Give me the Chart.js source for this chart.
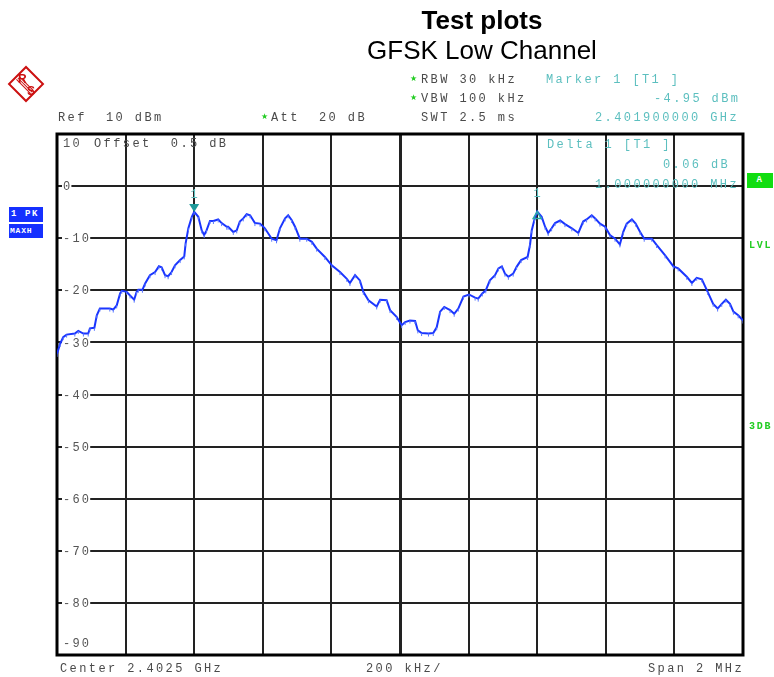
<!DOCTYPE html>
<html>
<head>
<meta charset="utf-8">
<script src="https://cdn.jsdelivr.net/npm/chart.js@4.4.1/dist/chart.umd.min.js"></script>
<style>
  html, body { margin: 0; padding: 0; background: #fff; }
  #wrap { position: relative; width: 774px; height: 677px; overflow: hidden; }
  canvas { position: absolute; left: 0; top: 0; }
  .t { position: absolute; white-space: pre; font-family: "Liberation Mono", "DejaVu Sans Mono", monospace;
       font-size: 12px; line-height: 12px; letter-spacing: 2.4px; color: #4a4a4a; }
  .teal { color: #5cbfbf; }
  .star { position: absolute; color: #22cc22; font-family: "DejaVu Sans", sans-serif; font-size: 8px; line-height: 8px; }
  .title { position: absolute; font-family: "Liberation Sans", Arial, sans-serif; color: #000; text-align: center; white-space: nowrap; }
  .box { position: absolute; font-family: "Liberation Mono", monospace; font-weight: bold; color: #fff;
         font-size: 9px; line-height: 14px; letter-spacing: 1.6px; white-space: pre; box-sizing: border-box; padding-left: 2px; }
  .side { position: absolute; font-family: "Liberation Mono", monospace; font-weight: bold; color: #22cc22;
          font-size: 10px; line-height: 10px; letter-spacing: 1.8px; }
  #logo { position: absolute; left: 13px; top: 71px; width: 26px; height: 26px; transform: rotate(45deg);
          border: 2px solid #cc1111; box-sizing: border-box; }
  #logo .s { position: absolute; left: 1px; width: 20px; height: 1px; background: #cc1111; }
  .lg { position: absolute; font-family: "Liberation Sans", Arial, sans-serif; font-weight: bold; font-size: 12px;
        line-height: 12px; color: #cc1111; }
</style>
</head>
<body>
<div id="wrap">
  <canvas id="c" width="774" height="677"></canvas>

  <div class="title" style="left:382px; top:7px; width:200px; font-size:26px; line-height:26px; font-weight:bold;">Test plots</div>
  <div class="title" style="left:332px; top:37px; width:300px; font-size:26px; line-height:26px;">GFSK Low Channel</div>

  <div id="logo"><div class="s" style="top:10px"></div><div class="s" style="top:12px"></div><div class="s" style="top:14px"></div></div>
  <div class="lg" style="left:18px; top:73px;">R</div>
  <div class="lg" style="left:27px; top:85px;">S</div>

  <div class="t" style="left:58px; top:112px;">Ref  10 dBm</div>
  <div class="star" style="left:261px; top:113px;">★</div>
  <div class="t" style="left:271px; top:112px;">Att  20 dB</div>

  <div class="star" style="left:410px; top:75px;">★</div>
  <div class="t" style="left:421px; top:74px;">RBW 30 kHz</div>
  <div class="star" style="left:410px; top:94px;">★</div>
  <div class="t" style="left:421px; top:93px;">VBW 100 kHz</div>
  <div class="t" style="left:421px; top:112px;">SWT 2.5 ms</div>

  <div class="t teal" style="left:546px; top:74px;">Marker 1 [T1 ]</div>
  <div class="t teal" style="left:654px; top:93px;">-4.95 dBm</div>
  <div class="t teal" style="left:595px; top:112px;">2.401900000 GHz</div>

  <div class="t teal" style="left:547px; top:139px;">Delta 1 [T1 ]</div>
  <div class="t teal" style="left:663px; top:159px;">0.06 dB</div>
  <div class="t teal" style="left:595px; top:179px;">1.000000000 MHz</div>

  <div class="t" style="left:94px; top:138px;">Offset  0.5 dB</div>

  <div class="box" style="left:747px; top:173px; width:26px; height:15px; background:#11dd11; text-align:center; padding-left:0; line-height:15px;">A</div>
  <div class="side" style="left:749px; top:241px;">LVL</div>
  <div class="side" style="left:749px; top:422px;">3DB</div>

  <div class="box" style="left:9px; top:207px; width:34px; height:15px; background:#1530ff;">1 PK</div>
  <div class="box" style="left:9px; top:224px; width:34px; height:14px; background:#1530ff; font-size:8px; letter-spacing:0.8px; padding-left:1px;">MAXH</div>

  <div class="t" style="left:60px; top:663px;">Center 2.4025 GHz</div>
  <div class="t" style="left:366px; top:663px;">200 kHz/</div>
  <div class="t" style="left:648px; top:663px;">Span 2 MHz</div>
</div>

<script>
// Frequency offset from the 2.4025 GHz centre, in kHz
const freqKHz = [-1000,-991,-982,-972,-948,-938,-923,-909,-904,-891,
  -884,-875,-846,-836,-826,-816,-811,-797,-787,-775,
  -768,-763,-751,-743,-729,-714,-703,-695,-685,-676,
  -666,-656,-641,-629,-625,-617,-607,-600,-588,-578,
  -571,-564,-554,-544,-530,-520,-505,-501,-486,-476,
  -467,-457,-447,-437,-423,-408,-394,-374,-360,-350,
  -335,-326,-316,-306,-292,-272,-257,-243,-219,-199,
  -175,-155,-146,-131,-117,-107,-92,-68,-58,-39,
  -29,-10,5,15,29,44,52,63,83,97,
  107,117,129,146,158,170,185,201,219,228,
  240,250,262,277,287,297,306,316,330,340,
  353,372,379,384,392,400,413,423,432,442,
  452,467,481,501,520,534,544,559,569,583,
  598,612,627,641,651,661,676,687,700,712,
  734,748,773,797,811,836,851,865,880,897,
  913,926,938,950,962,972,986,1000];

// Max-hold peak trace level, dBm
const levelDbm = [-32.2,-30.3,-29.0,-28.5,-28.3,-27.8,-28.3,-28.3,-27.3,-27.2,
  -24.8,-23.5,-23.5,-23.7,-22.9,-20.6,-20.1,-20.3,-21.0,-21.8,
  -20.3,-19.9,-19.9,-18.7,-17.1,-16.5,-15.4,-15.6,-17.1,-17.3,
  -16.5,-15.2,-14.2,-13.5,-11.0,-8.1,-5.9,-4.95,-5.9,-8.5,
  -9.4,-8.5,-6.7,-6.7,-6.4,-7.1,-7.8,-7.8,-8.8,-8.5,
  -6.8,-6.2,-5.4,-5.6,-7.1,-7.2,-8.1,-10.1,-10.4,-8.1,
  -6.2,-5.6,-6.5,-7.8,-10.1,-10.1,-10.7,-12.0,-13.6,-15.2,
  -16.5,-17.8,-18.6,-17.1,-18.1,-20.3,-21.9,-23.1,-21.8,-21.9,
  -23.8,-25.1,-26.7,-26.1,-25.8,-25.9,-27.7,-28.2,-28.3,-28.2,
  -27.1,-24.1,-23.2,-23.8,-24.5,-23.5,-21.2,-20.8,-21.4,-21.6,
  -20.6,-20.0,-18.1,-17.1,-15.8,-15.4,-16.8,-17.4,-16.8,-15.5,
  -14.2,-13.6,-11.3,-8.5,-6.4,-4.89,-5.9,-7.8,-9.0,-8.1,
  -7.1,-6.6,-7.3,-8.1,-9.0,-6.8,-6.4,-5.6,-6.2,-7.2,
  -7.8,-9.4,-10.1,-11.2,-8.8,-7.2,-6.4,-7.2,-8.8,-10.1,
  -10.1,-11.3,-13.3,-15.4,-15.8,-17.4,-18.6,-17.6,-17.9,-20.3,
  -22.6,-23.5,-22.6,-21.8,-22.6,-24.1,-24.8,-25.8];

// Marker 1 (absolute) and Delta 1 positions
const markerFreqKHz = [-600, 400];
const markerLevelDbm = [-4.95, -4.89];

// Reference-level axis: 10 dB/div from +10 down to -90 dBm
const yTickValues = [10, 0, -10, -20, -30, -40, -50, -60, -70, -80, -90];
const yTickLabels = ['10', '0', '-10', '-20', '-30', '-40', '-50', '-60', '-70', '-80', '-90'];

const MONO = '12px "Liberation Mono", "DejaVu Sans Mono", monospace';

const analyzerDecor = {
  id: 'analyzerDecor',
  beforeDatasetsDraw(chart) {
    const { ctx, chartArea: a, scales } = chart;
    ctx.save();
    // heavy outer frame
    ctx.strokeStyle = '#000';
    ctx.lineWidth = 3;
    ctx.strokeRect(a.left, a.top, a.right - a.left, a.bottom - a.top);
    // level labels sitting inside the grid
    ctx.font = MONO;
    if ('letterSpacing' in ctx) ctx.letterSpacing = '2.2px';
    ctx.textBaseline = 'middle';
    ctx.textAlign = 'left';
    yTickValues.forEach((v, i) => {
      let y = scales.y.getPixelForValue(v);
      if (v === scales.y.max) y += 9;
      else if (v === scales.y.min) y -= 12;
      const txt = yTickLabels[i];
      const w = ctx.measureText(txt).width;
      ctx.fillStyle = '#fff';
      ctx.fillRect(a.left + 5, y - 5, w, 10);
      ctx.fillStyle = '#555';
      ctx.fillText(txt, a.left + 6, y + 1);
    });
    ctx.restore();
  },
  afterDatasetsDraw(chart) {
    const { ctx, scales } = chart;
    ctx.save();
    ctx.font = MONO;
    ctx.textAlign = 'center';
    ctx.textBaseline = 'middle';
    // Marker 1: filled down-pointing triangle on the trace
    let x = scales.x.getPixelForValue(markerFreqKHz[0]);
    let y = scales.y.getPixelForValue(markerLevelDbm[0]);
    ctx.fillStyle = '#1e9a9a';
    ctx.beginPath();
    ctx.moveTo(x, y);
    ctx.lineTo(x - 5, y - 8);
    ctx.lineTo(x + 5, y - 8);
    ctx.closePath();
    ctx.fill();
    ctx.fillStyle = '#5cbfbf';
    ctx.fillText('1', x, y - 17);
    // Delta 1: open triangle with its apex on the trace
    x = scales.x.getPixelForValue(markerFreqKHz[1]);
    y = scales.y.getPixelForValue(markerLevelDbm[1]);
    ctx.strokeStyle = '#2aa8a8';
    ctx.lineWidth = 1.5;
    ctx.beginPath();
    ctx.moveTo(x, y);
    ctx.lineTo(x - 4, y + 7);
    ctx.lineTo(x + 4, y + 7);
    ctx.closePath();
    ctx.stroke();
    ctx.fillStyle = '#5cbfbf';
    ctx.fillText('1', x, y - 18);
    ctx.restore();
  }
};

const gridWidth = (c, axis) => {
  const v = c.tick ? c.tick.value : null;
  return v === 0 && axis === 'x' ? 3 : 2;
};

new Chart(document.getElementById('c'), {
  type: 'scatter',
  data: {
    datasets: [{
      label: '1 PK MAXH',
      data: freqKHz.map((f, i) => ({ x: f, y: levelDbm[i] })),
      showLine: true,
      borderColor: '#1a35ff',
      borderWidth: 2,
      tension: 0,
      pointStyle: 'dash',
      pointRotation: 90,
      pointRadius: 3,
      pointBorderColor: '#5a78ff',
      pointBorderWidth: 1,
      pointBackgroundColor: '#5a78ff'
    }]
  },
  options: {
    responsive: false,
    animation: false,
    devicePixelRatio: 1,
    layout: { padding: { left: 57, right: 31, top: 134, bottom: 22 } },
    plugins: { legend: { display: false }, tooltip: { enabled: false }, title: { display: false } },
    scales: {
      x: {
        type: 'linear', min: -1000, max: 1000,
        ticks: { display: false, stepSize: 200 },
        grid: { color: '#222', lineWidth: c => gridWidth(c, 'x'), drawTicks: false },
        border: { display: false }
      },
      y: {
        type: 'linear', min: -90, max: 10,
        ticks: { display: false, stepSize: 10 },
        grid: { color: '#222', lineWidth: c => gridWidth(c, 'y'), drawTicks: false },
        border: { display: false }
      }
    }
  },
  plugins: [analyzerDecor]
});
</script>
</body>
</html>
